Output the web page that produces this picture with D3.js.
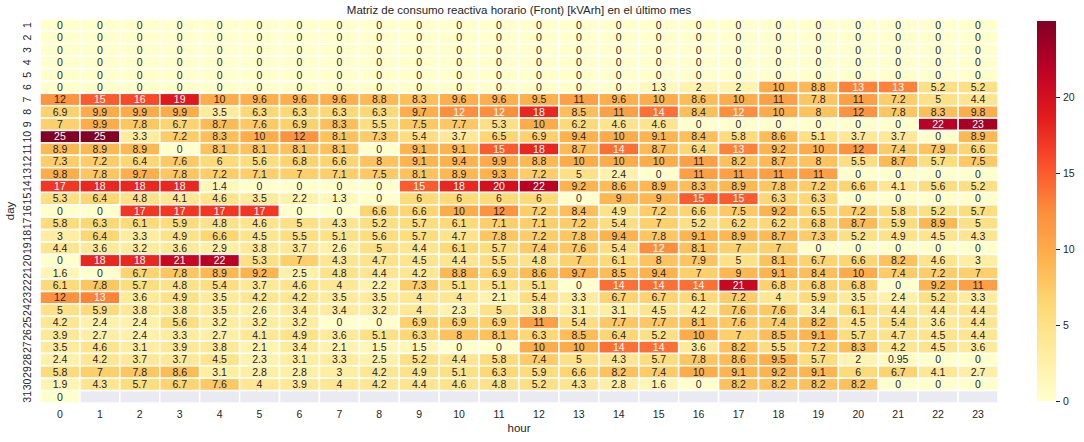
<!DOCTYPE html>
<html>
<head>
<meta charset="utf-8">
<title>Matriz de consumo reactiva horario</title>
<script src="https://d3js.org/d3.v7.min.js"></script>
<style>
  body { margin: 0; background: #fff; }
  text { font-family: "Liberation Sans", Arial, sans-serif; fill: #262626; }
</style>
</head>
<body>
<svg id="chart" width="1084" height="442"></svg>
<script>
// data
var title = "Matriz de consumo reactiva horario (Front) [kVArh] en el último mes";
var days = d3.range(1, 32);
var hours = d3.range(0, 24);
var cbTicks = [0, 5, 10, 15, 20];
var consumo = [
  [0,0,0,0,0,0,0,0,0,0,0,0,0,0,0,0,0,0,0,0,0,0,0,0],
  [0,0,0,0,0,0,0,0,0,0,0,0,0,0,0,0,0,0,0,0,0,0,0,0],
  [0,0,0,0,0,0,0,0,0,0,0,0,0,0,0,0,0,0,0,0,0,0,0,0],
  [0,0,0,0,0,0,0,0,0,0,0,0,0,0,0,0,0,0,0,0,0,0,0,0],
  [0,0,0,0,0,0,0,0,0,0,0,0,0,0,0,0,0,0,0,0,0,0,0,0],
  [0,0,0,0,0,0,0,0,0,0,0,0,0,0,0,1.3,2,2,10,8.8,13,13,5.2,5.2],
  [11.9,15,16,19,10,9.6,9.6,9.6,8.8,8.3,9.6,9.6,9.5,11,9.6,10,8.6,10,11,7.8,11,7.2,5,4.4],
  [6.9,9.9,9.9,9.9,3.5,6.3,6.3,6.3,6.3,9.7,12.45,12.45,18,8.5,11,14,8.4,12.45,10,8,12,7.8,8.3,9.8],
  [7,9.9,7.8,6.7,8.7,7.6,6.9,8.3,5.5,7.5,7.7,5.3,10,6.2,4.6,4.6,0,0,0,0,0,0,22,23],
  [25,25,3.3,7.2,8.3,10,12,8.1,7.3,5.4,3.7,6.5,6.9,9.4,10,9.1,8.4,5.8,8.6,5.1,3.7,3.7,0,8.9],
  [8.9,8.9,8.9,0,8.1,8.1,8.1,8.1,0,9.1,9.1,15,18,8.7,14,8.7,6.4,13,9.2,10,12,7.4,7.9,6.6],
  [7.3,7.2,6.4,7.6,6,5.6,6.8,6.6,8,9.1,9.4,9.9,8.8,10,10,10,11,8.2,8.7,8,5.5,8.7,5.7,7.5],
  [9.8,7.8,9.7,7.8,7.2,7.1,7,7.1,7.5,8.1,8.9,9.3,7.2,5,2.4,0,11,11,11,11,0,0,0,0],
  [17,18,18,18,1.4,0,0,0,0,15,18,20,22,9.2,8.6,8.9,8.3,8.9,7.8,7.2,6.6,4.1,5.6,5.2],
  [5.3,6.4,4.8,4.1,4.6,3.5,2.2,1.3,0,6,6,6,6,0,9,9,15,15,6.3,6.3,0,0,0,0],
  [0,0,17,17,17,17,0,0,6.6,6.6,10,12,7.2,8.4,4.9,7.2,6.6,7.5,9.2,6.5,7.2,5.8,5.2,5.7],
  [5.8,6.3,6.1,5.9,4.8,4.6,5,4.3,5.2,5.7,6.1,7.1,7.1,7.2,5.4,7,5.2,6.2,6.2,6.8,8.7,5.9,8.9,5],
  [3,6.4,3.3,4.9,6.6,4.5,5.5,5.1,5.6,5.7,4.7,7.8,7.2,7.8,9.4,7.8,9.1,8.9,8.7,7.3,5.2,4.9,4.5,4.3],
  [4.4,3.6,3.2,3.6,2.9,3.8,3.7,2.6,5,4.4,6.1,5.7,7.4,7.6,5.4,12.45,8.1,7,7,0,0,0,0,0],
  [0,18,18,21,22,5.3,7,4.3,4.7,4.5,4.4,5.5,4.8,7,6.1,8,7.9,5,8.1,6.7,6.6,8.2,4.6,3],
  [1.6,0,6.7,7.8,8.9,9.2,2.5,4.8,4.4,4.2,8.8,6.9,8.6,9.7,8.5,9.4,7,9,9.1,8.4,10,7.4,7.2,7],
  [6.1,7.8,5.7,4.8,5.4,3.7,4.6,4,2.2,7.3,5.1,5.1,5.1,0,14,14,14,21,6.8,6.8,6.8,0,9.2,11],
  [12,13,3.6,4.9,3.5,4.2,4.2,3.5,3.5,4,4,2.1,5.4,3.3,6.7,6.7,6.1,7.2,4,5.9,3.5,2.4,5.2,3.3],
  [5,5.9,3.8,3.8,3.5,2.6,3.4,3.4,3.2,4,2.3,5,3.8,3.1,3.1,4.5,4.2,7.6,7.6,3.4,6.1,4.4,4.4,4.4],
  [4.2,2.4,2.4,5.6,3.2,3.2,3.2,0,0,6.9,6.9,6.9,11,5.4,7.7,7.7,8.1,7.6,7.4,8.2,4.5,5.4,3.6,4.4],
  [3.9,2.7,2.4,3.3,2.7,4.1,4.9,3.6,5.1,6.3,8,8.1,6.3,8.5,6.4,5.2,10,7,8.5,9.1,5.7,4.7,4.5,4.4],
  [3.5,4.6,3.1,3.9,3.8,2.1,3.4,2.1,1.5,1.5,0,0,10,10,14,14,3.6,8.2,5.5,7.2,8.3,4.2,4.5,3.6],
  [2.4,4.2,3.7,3.7,4.5,2.3,3.1,3.3,2.5,5.2,4.4,5.8,7.4,5,4.3,5.7,7.8,8.6,9.5,5.7,2,0.95,0,0],
  [5.8,7,7.8,8.6,3.1,2.8,2.8,3,4.2,4.9,5.1,6.3,5.9,6.6,8.2,7.4,10,9.1,9.2,9.1,6,6.7,4.1,2.7],
  [1.9,4.3,5.7,6.7,7.6,4,3.9,4,4.2,4.4,4.6,4.8,5.2,4.3,2.8,1.6,0,8.2,8.2,8.2,8.2,0,0,0],
  [0,null,null,null,null,null,null,null,null,null,null,null,null,null,null,null,null,null,null,null,null,null,null,null]
];
var ylorrd = ["#ffffcc","#ffeda0","#fed976","#feb24c","#fd8d3c","#fc4e2a","#e31a1c","#bd0026","#800026"];

var svg = d3.select("#chart");
var mLeft = 40, mRight = 998, mTop = 19, mBottom = 403;

var vmax = d3.max(consumo, function(r) { return d3.max(r); });
var color = d3.scaleLinear()
    .domain(ylorrd.map(function(c, i) { return i / (ylorrd.length - 1) * vmax; }))
    .range(ylorrd)
    .interpolate(d3.interpolateRgb)
    .clamp(true);

var x = d3.scaleBand().domain(hours).range([mLeft, mRight]);
var y = d3.scaleBand().domain(days).range([mTop, mBottom]);

// seaborn-like text colour choice
function lum(c) {
    var rgb = d3.rgb(c);
    var f = function(v) { v = v / 255; return v <= 0.03928 ? v / 12.92 : Math.pow((v + 0.055) / 1.055, 2.4); };
    return 0.2126 * f(rgb.r) + 0.7152 * f(rgb.g) + 0.0722 * f(rgb.b);
}
function fmt(v) {
    if (v === 0) return "0";
    return String(+d3.format(".2g")(v));
}

var cells = [];
consumo.forEach(function(row, i) {
    row.forEach(function(v, j) { cells.push({ day: days[i], hour: hours[j], v: v }); });
});

var g = svg.append("g");
g.selectAll("rect").data(cells).enter().append("rect")
    .attr("x", function(d) { return x(d.hour); })
    .attr("y", function(d) { return y(d.day); })
    .attr("width", x.bandwidth())
    .attr("height", y.bandwidth())
    .attr("fill", function(d) { return d.v === null ? "#eaeaf2" : color(d.v); })
    .attr("stroke", "#fff")
    .attr("stroke-width", 1.5);

g.selectAll("text").data(cells.filter(function(d) { return d.v !== null; })).enter().append("text")
    .attr("x", function(d) { return x(d.hour) + x.bandwidth() / 2; })
    .attr("y", function(d) { return y(d.day) + y.bandwidth() / 2; })
    .attr("dy", "0.36em")
    .attr("text-anchor", "middle")
    .style("font-size", "10.5px")
    .style("fill", function(d) { return lum(color(d.v)) > 0.408 ? "#262626" : "#ffffff"; })
    .text(function(d) { return fmt(d.v); });

// axes labels
svg.selectAll(".xt").data(hours).enter().append("text")
    .attr("x", function(d) { return x(d) + x.bandwidth() / 2; })
    .attr("y", 418)
    .attr("text-anchor", "middle")
    .style("font-size", "10.5px")
    .text(function(d) { return d; });

svg.selectAll(".yt").data(days).enter().append("text")
    .attr("transform", function(d) { return "translate(31," + (y(d) + y.bandwidth() / 2) + ") rotate(-90)"; })
    .attr("text-anchor", "middle")
    .style("font-size", "10.5px")
    .text(function(d) { return d; });

svg.append("text")
    .attr("x", (mLeft + mRight) / 2).attr("y", 432)
    .attr("text-anchor", "middle")
    .style("font-size", "11.5px")
    .text("hour");

svg.append("text")
    .attr("transform", "translate(14," + (mTop + mBottom) / 2 + ") rotate(-90)")
    .attr("text-anchor", "middle")
    .style("font-size", "11.5px")
    .text("day");

svg.append("text")
    .attr("x", (mLeft + mRight) / 2).attr("y", 14)
    .attr("text-anchor", "middle")
    .style("font-size", "11.5px")
    .text(title);

// colorbar
var cbX = 1037, cbW = 19;
var cbScale = d3.scaleLinear().domain([0, vmax]).range([mBottom - 2, mTop + 2]);
var grad = svg.append("defs").append("linearGradient")
    .attr("id", "cbgrad").attr("x1", 0).attr("y1", 1).attr("x2", 0).attr("y2", 0);
grad.selectAll("stop").data(ylorrd).enter().append("stop")
    .attr("offset", function(d, i) { return i / (ylorrd.length - 1); })
    .attr("stop-color", function(d) { return d; });
svg.append("rect")
    .attr("x", cbX).attr("y", cbScale(vmax))
    .attr("width", cbW).attr("height", cbScale(0) - cbScale(vmax))
    .attr("fill", "url(#cbgrad)");

var cbAxis = svg.append("g")
    .attr("transform", "translate(" + (cbX + cbW) + ",0)")
    .call(d3.axisRight(cbScale).tickValues(cbTicks).tickSize(4).tickPadding(3));
cbAxis.select(".domain").remove();
cbAxis.selectAll("line").attr("stroke", "#262626").attr("stroke-width", 1);
cbAxis.selectAll("text")
    .style("font-family", "Liberation Sans, Arial, sans-serif")
    .style("font-size", "10.5px")
    .attr("fill", "#262626");
</script>
</body>
</html>
